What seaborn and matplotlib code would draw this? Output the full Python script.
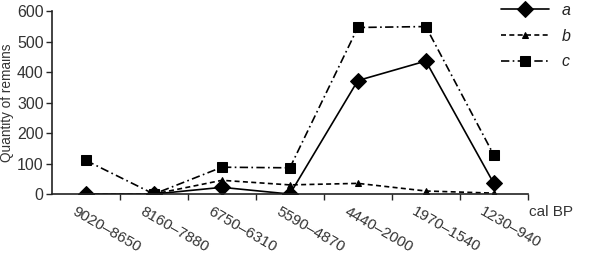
import pandas as pd
import numpy as np
import matplotlib
matplotlib.use("Agg")
import matplotlib.pyplot as plt
import matplotlib.transforms as mtransforms
import seaborn as sns

# -----------------------------
# Data
# -----------------------------
periods = ["9020–8650", "8160–7880", "6750–6310", "5590–4870",
           "4440–2000", "1970–1540", "1230–940"]
series_a = [0, 0, 22, 0, 372, 436, 35]
series_b = [0, 0, 45, 30, 35, 10, 3]
series_c = [110, 0, 88, 86, 546, 549, 128]

df = pd.DataFrame({
    "period": periods * 3,
    "value": series_a + series_b + series_c,
    "series": ["a"] * 7 + ["b"] * 7 + ["c"] * 7,
})

# -----------------------------
# Plot
# -----------------------------
sns.set_style("ticks")
plt.rcParams["font.family"] = ["Liberation Sans", "DejaVu Sans"]

fig = plt.figure(figsize=(5.91, 2.56), dpi=100)
ax = fig.add_axes([0.088, 0.242, 0.805, 0.715])

sns.lineplot(
    data=df, x="period", y="value",
    hue="series", style="series",
    palette={"a": "black", "b": "black", "c": "black"},
    markers={"a": "D", "b": "^", "c": "s"},
    dashes={"a": "", "b": (3, 2), "c": (5, 2, 1, 2)},
    markersize=7, markeredgecolor="black",
    linewidth=1.2, sort=False, ax=ax,
)
for ln in ax.lines:
    m = ln.get_marker()
    if m == "D":
        ln.set_markersize(8)
    elif m == "^":
        ln.set_markersize(5)
    elif m == "s":
        ln.set_markersize(7)

ax.set_ylim(0, 600)
ax.set_xlim(-0.5, 6.45)
ax.set_yticks([0, 100, 200, 300, 400, 500, 600])
ax.set_xticks(np.arange(len(periods)) + 0.5)
ax.set_xticklabels([])
ax.tick_params(axis="x", which="major", length=4, direction="out", width=1)
ax.tick_params(axis="y", length=4, width=1, labelsize=11.5,
               labelcolor="#333333", pad=2)

# rotated period labels under each category
trans = mtransforms.blended_transform_factory(ax.transData, ax.transAxes)
offset = mtransforms.ScaledTranslation(-0.09, -0.10, fig.dpi_scale_trans)
for i, p in enumerate(periods):
    ax.text(i, 0, p, transform=trans + offset, rotation=-30,
            rotation_mode="anchor", ha="left", va="top",
            fontsize=11, color="#333333")

ax.set_xlabel("")
ax.set_ylabel("Quantity of remains", fontsize=9.8, color="#333333", labelpad=2)
for s in ["left", "bottom"]:
    ax.spines[s].set_linewidth(1.2)
    ax.spines[s].set_color("#222222")
sns.despine(ax=ax)

fig.text(0.895, 0.17, "cal BP", fontsize=11, color="#333333",
         ha="left", va="center")

leg = ax.legend(loc="upper left", bbox_to_anchor=(0.93, 1.08),
                frameon=False, handlelength=3.0, labelspacing=0.68,
                handletextpad=0.8, fontsize=11.5, borderaxespad=0)
for t in leg.get_texts():
    t.set_fontstyle("italic")
    t.set_color("#222222")

fig.savefig("out.png", dpi=100)
